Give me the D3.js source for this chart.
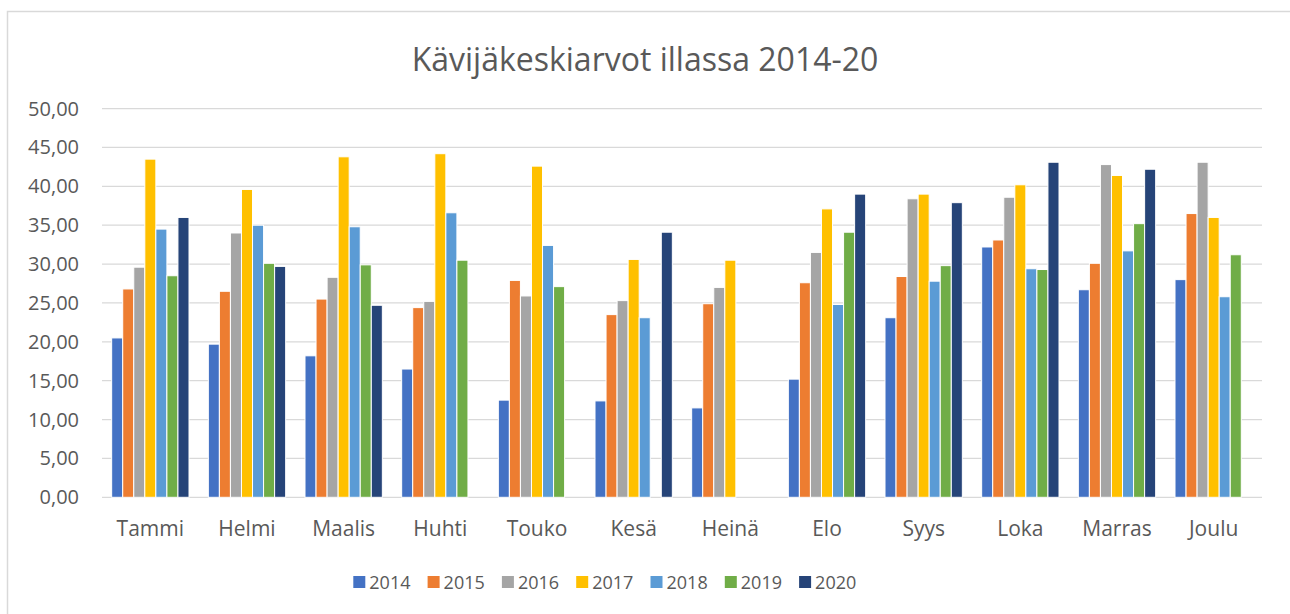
<!DOCTYPE html>
<html>
<head>
<meta charset="utf-8">
<script src="https://cdn.jsdelivr.net/npm/d3@7"></script>
<style>
  body { margin: 0; background: #fff; }
  text { font-family: "Open Sans", sans-serif; fill: #595959; }
</style>
</head>
<body>
<script>
const months = ["Tammi", "Helmi", "Maalis", "Huhti", "Touko", "Kesä", "Heinä", "Elo", "Syys", "Loka", "Marras", "Joulu"]
const years = ["2014", "2015", "2016", "2017", "2018", "2019", "2020"]
const yTicks = [0, 5, 10, 15, 20, 25, 30, 35, 40, 45, 50]

// one array per year, values per month (null = no data)
const v2014 = [20.5, 19.7, 18.2, 16.5, 12.5, 12.4, 11.5, 15.2, 23.1, 32.2, 26.7, 28.0]
const v2015 = [26.8, 26.5, 25.5, 24.4, 27.9, 23.5, 24.9, 27.6, 28.4, 33.1, 30.1, 36.5]
const v2016 = [29.6, 34.0, 28.3, 25.2, 25.9, 25.3, 27.0, 31.5, 38.4, 38.6, 42.8, 43.1]
const v2017 = [43.5, 39.6, 43.8, 44.2, 42.6, 30.6, 30.5, 37.1, 39.0, 40.2, 41.4, 36.0]
const v2018 = [34.5, 35.0, 34.8, 36.6, 32.4, 23.1, null, 24.8, 27.8, 29.4, 31.7, 25.8]
const v2019 = [28.5, 30.1, 29.9, 30.5, 27.1, null, null, 34.1, 29.8, 29.3, 35.2, 31.2]
const v2020 = [36.0, 29.7, 24.7, null, null, 34.1, null, 39.0, 37.9, 43.1, 42.2, null]
const series = [v2014, v2015, v2016, v2017, v2018, v2019, v2020]
const colors = ["#4472C4", "#ED7D31", "#A5A5A5", "#FFC000", "#5B9BD5", "#70AD47", "#264478"]

const width = 1290, height = 614
const margin = {top: 108.6, right: 28, bottom: 116.7, left: 102}

const svg = d3.select("body").append("svg").attr("width", width).attr("height", height)

// chart area border
svg.append("rect")
  .attr("x", 7.5).attr("y", 11.5).attr("width", width).attr("height", height)
  .attr("fill", "none").attr("stroke", "#d9d9d9").attr("stroke-width", 1.5)

const x0 = d3.scaleBand().domain(months)
  .range([margin.left, width - margin.right]).paddingInner(0.2).paddingOuter(0.1)
const x1 = d3.scaleBand().domain(years).range([0, x0.bandwidth()])
const y = d3.scaleLinear().domain([0, 50]).range([height - margin.bottom, margin.top])

// gridlines
svg.append("g").selectAll("line").data(yTicks).join("line")
  .attr("x1", margin.left).attr("x2", width - margin.right)
  .attr("y1", d => y(d)).attr("y2", d => y(d))
  .attr("stroke", "#d9d9d9").attr("stroke-width", 1.2)

// y labels
const fmt = d => d3.format(".2f")(d).replace(".", ",")
svg.append("g").selectAll("text").data(yTicks).join("text")
  .attr("x", 79).attr("y", d => y(d)).attr("dy", "0.35em")
  .attr("text-anchor", "end").attr("font-size", 20)
  .text(fmt)

// bars
const rows = []
months.forEach((m, i) => years.forEach((yr, j) => {
  if (series[j][i] != null) rows.push({month: m, year: yr, value: series[j][i], color: colors[j]})
}))
svg.append("g").selectAll("rect").data(rows).join("rect")
  .attr("x", d => x0(d.month) + x1(d.year))
  .attr("width", x1.bandwidth())
  .attr("y", d => y(d.value))
  .attr("height", d => y(0) - y(d.value))
  .attr("fill", d => d.color)
  .attr("stroke", "#fff").attr("stroke-width", 1)

// category labels
svg.append("g").selectAll("text").data(months).join("text")
  .attr("x", d => x0(d) + x0.bandwidth() / 2).attr("y", 535.5)
  .attr("text-anchor", "middle").attr("font-size", 21)
  .text(d => d)

// title
svg.append("text")
  .attr("x", 645).attr("y", 71)
  .attr("text-anchor", "middle").attr("font-size", 32)
  .text("Kävijäkeskiarvot illassa 2014-20")

// legend
const legend = svg.append("g").selectAll("g").data(years).join("g")
  .attr("transform", (d, i) => `translate(${353.3 + i * 74.3},576)`)
legend.append("rect").attr("width", 12).attr("height", 12).attr("fill", (d, i) => colors[i])
legend.append("text").attr("x", 16).attr("y", 12.5).attr("font-size", 18).text(d => d)
</script>
</body>
</html>
